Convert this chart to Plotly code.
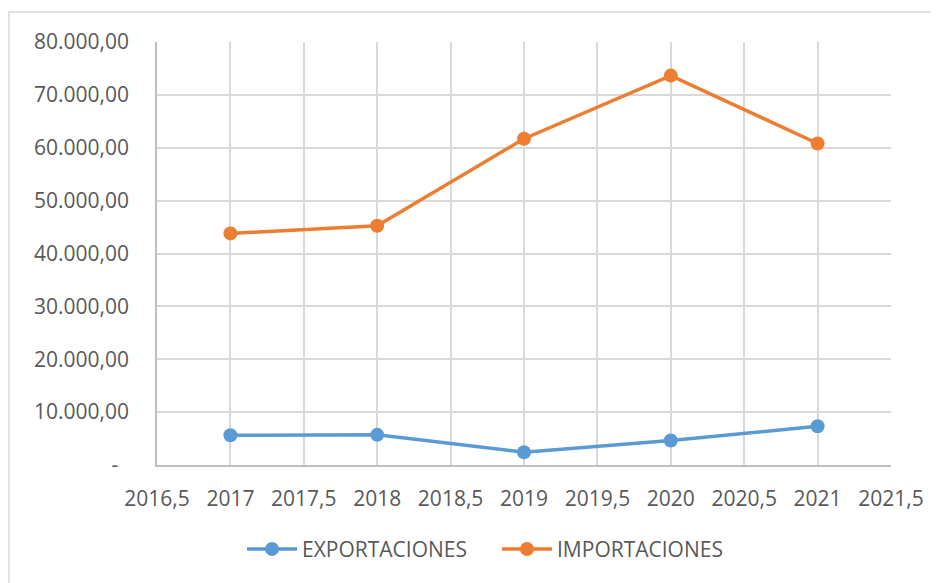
import plotly.graph_objects as go

years = [2017, 2018, 2019, 2020, 2021]
exportaciones = [5620, 5700, 2420, 4620, 7320]
importaciones = [43800, 45250, 61700, 73650, 60800]

y_tickvals = [0, 10000, 20000, 30000, 40000, 50000, 60000, 70000, 80000]
y_ticktext = ["-\u00a0\u00a0", "10.000,00", "20.000,00", "30.000,00", "40.000,00",
              "50.000,00", "60.000,00", "70.000,00", "80.000,00"]
x_tickvals = [2016.5, 2017, 2017.5, 2018, 2018.5, 2019, 2019.5, 2020, 2020.5, 2021, 2021.5]
x_ticktext = ["2016,5", "2017", "2017,5", "2018", "2018,5", "2019", "2019,5",
              "2020", "2020,5", "2021", "2021,5"]

FONT = "'Open Sans', Lato, sans-serif"
TXT = "#595959"

fig = go.Figure()
fig.add_trace(go.Scatter(x=years, y=exportaciones, name="EXPORTACIONES",
                         mode="lines+markers",
                         line=dict(color="#5B9BD5", width=3.5),
                         marker=dict(color="#5B9BD5", size=14)))
fig.add_trace(go.Scatter(x=years, y=importaciones, name="IMPORTACIONES",
                         mode="lines+markers",
                         line=dict(color="#ED7D31", width=3.5),
                         marker=dict(color="#ED7D31", size=14)))

OFF = 8  # page body margin
W, H = 939, 583
L = 157 - OFF
T = 42 - OFF
R = W - (891 - OFF)
B = H - (465.5 - OFF)
pw = W - L - R
ph = H - T - B

def px(xpage):
    return (xpage - OFF - L) / pw

def py(ypage):
    return (H - B - (ypage - OFF)) / ph

fig.update_layout(
    width=W, height=H,
    margin=dict(l=L, r=R, t=T, b=B),
    paper_bgcolor="white", plot_bgcolor="white",
    font=dict(family=FONT, size=21, color=TXT),
    showlegend=True,
    legend=dict(orientation="h", x=px(242), xanchor="left",
                y=py(550), yanchor="middle",
                font=dict(size=21, color=TXT), entrywidth=190, itemwidth=50,
                bgcolor="rgba(0,0,0,0)"),
    shapes=[dict(type="rect", xref="paper", yref="paper",
                 x0=px(9), x1=px(W + 40),
                 y0=py(H + 40), y1=py(12),
                 line=dict(color="#d9d9d9", width=1.5), fillcolor="rgba(0,0,0,0)",
                 layer="below")],
)
fig.update_xaxes(range=[2016.5, 2021.5], tickmode="array", tickvals=x_tickvals,
                 ticktext=x_ticktext, showgrid=True, gridcolor="#d9d9d9", gridwidth=1.5,
                 showline=True, linecolor="#bfbfbf", linewidth=1.5, zeroline=False,
                 ticks="", ticklabelstandoff=14, tickfont=dict(size=21, color=TXT))
fig.update_yaxes(range=[0, 80000], tickmode="array", tickvals=y_tickvals,
                 ticktext=y_ticktext, showgrid=True, gridcolor="#d9d9d9", gridwidth=1.5,
                 showline=True, linecolor="#bfbfbf", linewidth=1.5, zeroline=False,
                 ticks="", ticklabelstandoff=22, tickfont=dict(size=21, color=TXT))

fig.write_html("out.html")
